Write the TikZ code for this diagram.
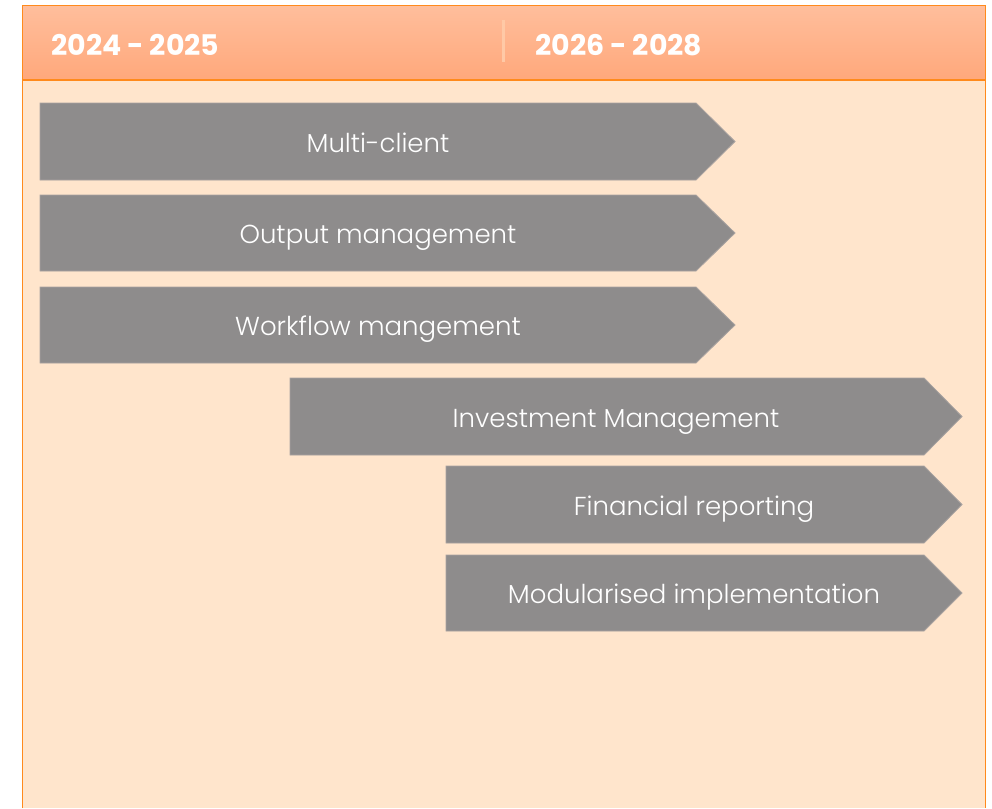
\documentclass[tikz,border=0pt]{standalone}
\usepackage{fontspec}
\setmainfont{Poppins}[UprightFont=* Light]
\newfontfamily\hdrfont{Poppins}
\definecolor{hdrtop}{HTML}{FFBE9C}
\definecolor{hdrbot}{HTML}{FFA87B}
\definecolor{frameor}{HTML}{FF8A1C}
\definecolor{bodyfill}{HTML}{FFE5CC}
\definecolor{arrowgray}{HTML}{8E8C8C}
\definecolor{arrowedge}{HTML}{A8A2A0}
\definecolor{divline}{HTML}{FFC9A6}
\tikzset{
  px/.style={x=0.75pt,y=-0.75pt},
  phase/.style={fill=arrowgray,draw=arrowedge,line width=0.6pt},
  phaselabel/.style={text=white,font=\fontsize{19.5}{21}\selectfont,inner sep=0pt,anchor=base},
  yearlabel/.style={text=white,font=\hdrfont\bfseries\fontsize{21.3}{24}\selectfont,inner sep=0pt,anchor=west},
}
\begin{document}
\begin{tikzpicture}[px]
\useasboundingbox (0,0) rectangle (992,808);
% body
\fill[bodyfill] (22.5,80) rectangle (985.5,808);
% header
\shade[top color=hdrtop,bottom color=hdrbot] (22.5,5.5) rectangle (985.5,80);
\draw[frameor,line width=1pt] (22.5,80) -- (985.5,80);
\draw[frameor,line width=1.2pt] (22.5,808) -- (22.5,5.5) -- (985.5,5.5) -- (985.5,808);
% divider
\coordinate (dtop) at (503.5,20);
\coordinate (dbot) at (503.5,62);
\draw[divline,line width=2.5pt] (dtop) -- (dbot);
% year labels
\node[yearlabel] (y1) at (51,45) {2024 - 2025};
\node[yearlabel] (y2) at (535,45) {2026 - 2028};
% phases
\draw[phase] (40,103) -- (696,103) -- (735,141.5) -- (696,180) -- (40,180) -- cycle;
\node[phaselabel] (p1) at (378,152) {Multi-client};
\draw[phase] (40,195) -- (696,195) -- (735,233) -- (696,271) -- (40,271) -- cycle;
\node[phaselabel] (p2) at (378,243.5) {Output management};
\draw[phase] (40,287) -- (696,287) -- (735,325) -- (696,363) -- (40,363) -- cycle;
\node[phaselabel] (p3) at (378,335.5) {Workflow mangement};
\draw[phase] (290,378) -- (924,378) -- (962,416.5) -- (924,455) -- (290,455) -- cycle;
\node[phaselabel] (p4) at (616,427) {Investment Management};
\draw[phase] (446,466) -- (924,466) -- (962,504.5) -- (924,543) -- (446,543) -- cycle;
\node[phaselabel] (p5) at (694,515) {Financial reporting};
\draw[phase] (446,555) -- (924,555) -- (962,593) -- (924,631) -- (446,631) -- cycle;
\node[phaselabel] (p6) at (694,603.5) {Modularised implementation};
\end{tikzpicture}
\end{document}
